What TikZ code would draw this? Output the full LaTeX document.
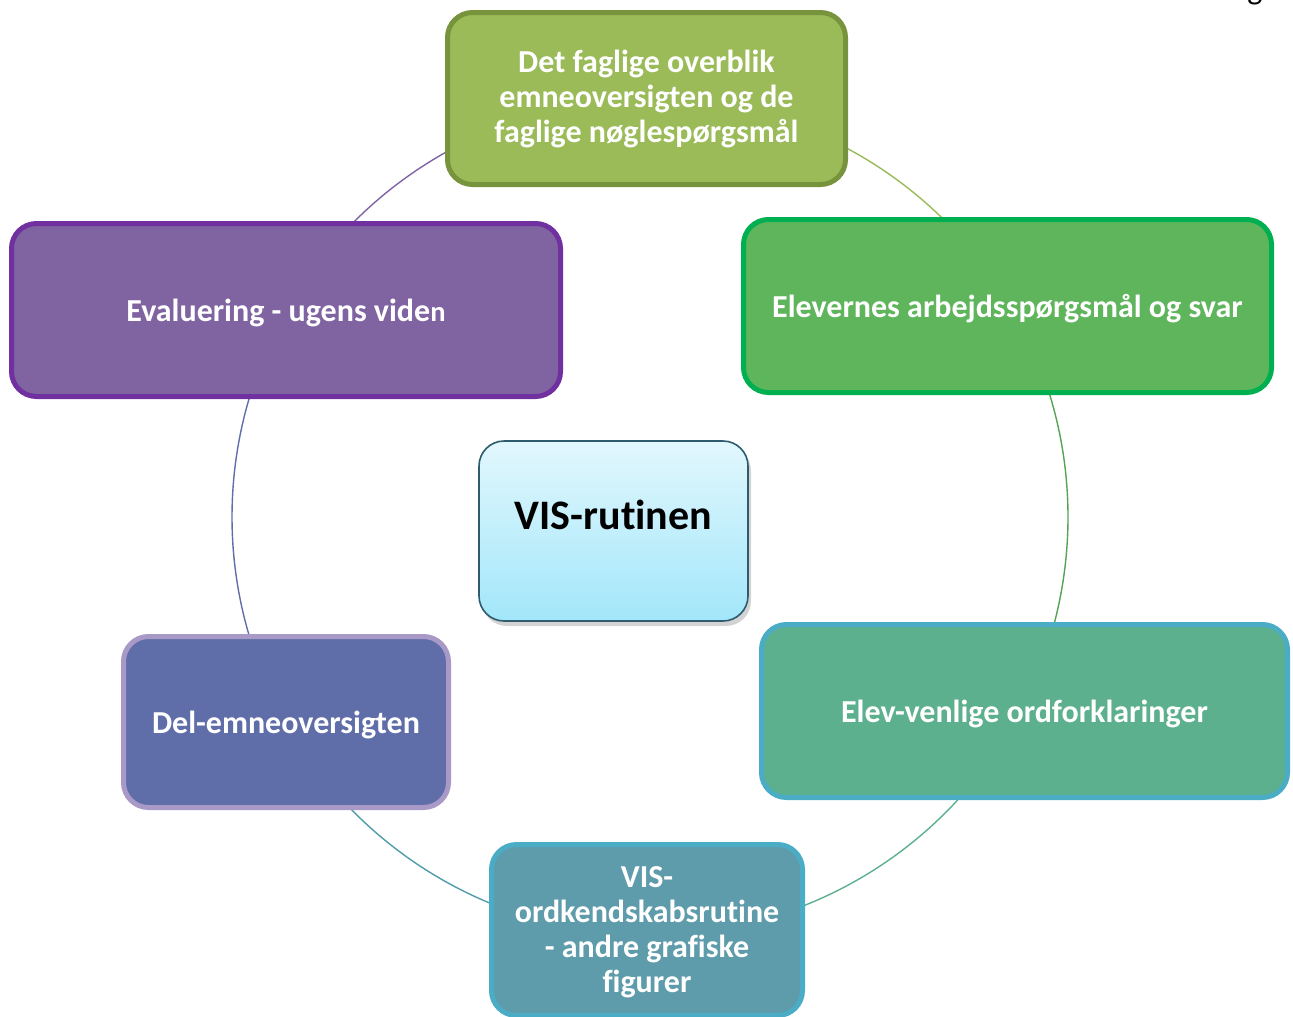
\documentclass[tikz,border=0pt]{standalone}
\usepackage{fontspec}
\setmainfont{Carlito}[Ligatures=NoCommon]
\usetikzlibrary{shadows,calc}
\definecolor{olivefill}{HTML}{9BBB59}
\definecolor{oliveline}{HTML}{77933C}
\definecolor{purpfill}{HTML}{8064A2}
\definecolor{purpline}{HTML}{7030A0}
\definecolor{grnfill}{HTML}{5FB55C}
\definecolor{grnline}{HTML}{00B050}
\definecolor{seafill}{HTML}{5DB08E}
\definecolor{aqualine}{HTML}{4BACC6}
\definecolor{bluefill}{HTML}{5F6EA9}
\definecolor{lavline}{HTML}{A899C6}
\definecolor{tealfill}{HTML}{5F9CAB}
\definecolor{centtop}{HTML}{E2F7FD}
\definecolor{centbot}{HTML}{A2E7FA}
\definecolor{centline}{HTML}{2E5C6E}
\definecolor{arcteal}{HTML}{4F9CAA}
\newcommand\lowtext[1]{\raisebox{-3pt}[\height][\depth]{#1}}
\tikzset{
  cyclebox/.style={rectangle, rounded corners=25pt, line width=5pt, text=white,
    font=\bfseries\fontsize{32}{35}\selectfont, align=center, inner sep=0pt},
  ring/.style={line width=1.4pt},
}
\begin{document}
\begin{tikzpicture}[x=1pt,y=-1pt]
\useasboundingbox (0,0) rectangle (1293,1017);
\coordinate (c) at (650,517);
% points on the ring at the box centres
\coordinate (aTop) at ($(c)+(-90:418)$);
\coordinate (aElev) at ($(c)+(-30:418)$);
\coordinate (aVenl) at ($(c)+(30:418)$);
\coordinate (aOrd) at ($(c)+(90:418)$);
\coordinate (aDel) at ($(c)+(150:418)$);
\coordinate (aEval) at ($(c)+(210:418)$);
% ring connectors
\draw[ring, olivefill] (aTop) arc[start angle=-90, end angle=-30, radius=418];
\draw[ring, grnfill!90!black] (aElev) arc[start angle=-30, end angle=30, radius=418];
\draw[ring, seafill] (aVenl) arc[start angle=30, end angle=90, radius=418];
\draw[ring, arcteal] (aOrd) arc[start angle=90, end angle=150, radius=418];
\draw[ring, bluefill] (aDel) arc[start angle=150, end angle=210, radius=418];
\draw[ring, purpfill] (aEval) arc[start angle=210, end angle=270, radius=418];
% boxes
\node[cyclebox, fill=olivefill, draw=oliveline, minimum width=398pt, minimum height=172pt]
  (top) at (646.5,98.5) {Det faglige overblik\\emneoversigten og de\\faglige nøglespørgsmål};
\node[cyclebox, fill=purpfill, draw=purpline, minimum width=549pt, minimum height=173pt]
  (eval) at (286,310) {\lowtext{Evaluering - ugens vide{\fontsize{28.5}{35}\selectfont n}}};
\node[cyclebox, fill=grnfill, draw=grnline, minimum width=528pt, minimum height=173pt]
  (elev) at (1007.5,306) {\lowtext{Elevernes arbejdsspørgsmål og svar}};
\node[cyclebox, fill=seafill, draw=aqualine, minimum width=526pt, minimum height=173pt]
  (venl) at (1024.5,711) {\lowtext{Elev-venlige ordforklaringer}};
\node[cyclebox, fill=bluefill, draw=lavline, minimum width=325pt, minimum height=171pt]
  (del) at (286,722) {\lowtext{Del-emneoversigten}};
\node[cyclebox, fill=tealfill, draw=aqualine, minimum width=311pt, minimum height=171pt]
  (ord) at (647,930) {\lowtext{\begin{tabular}{@{}c@{}}VIS-\\ordkendskabsrutine\\- andre grafiske\\figurer\end{tabular}}};
\node[rectangle, rounded corners=25pt, line width=1.6pt, draw=centline,
  top color=centtop, bottom color=centbot,
  drop shadow={shadow xshift=3pt, shadow yshift=-5pt, opacity=0.35},
  minimum width=269pt, minimum height=180pt, inner sep=0pt,
  font=\bfseries\fontsize{42}{45}\selectfont, text=black]
  (vis) at (613.5,531) {\raisebox{2pt}[0pt][0pt]{VIS-rutinen}};
\node[font=\fontsize{32}{35}\selectfont, text=black, anchor=base, inner sep=0pt] (gcut) at (1255,-1) {g};
\end{tikzpicture}
\end{document}
